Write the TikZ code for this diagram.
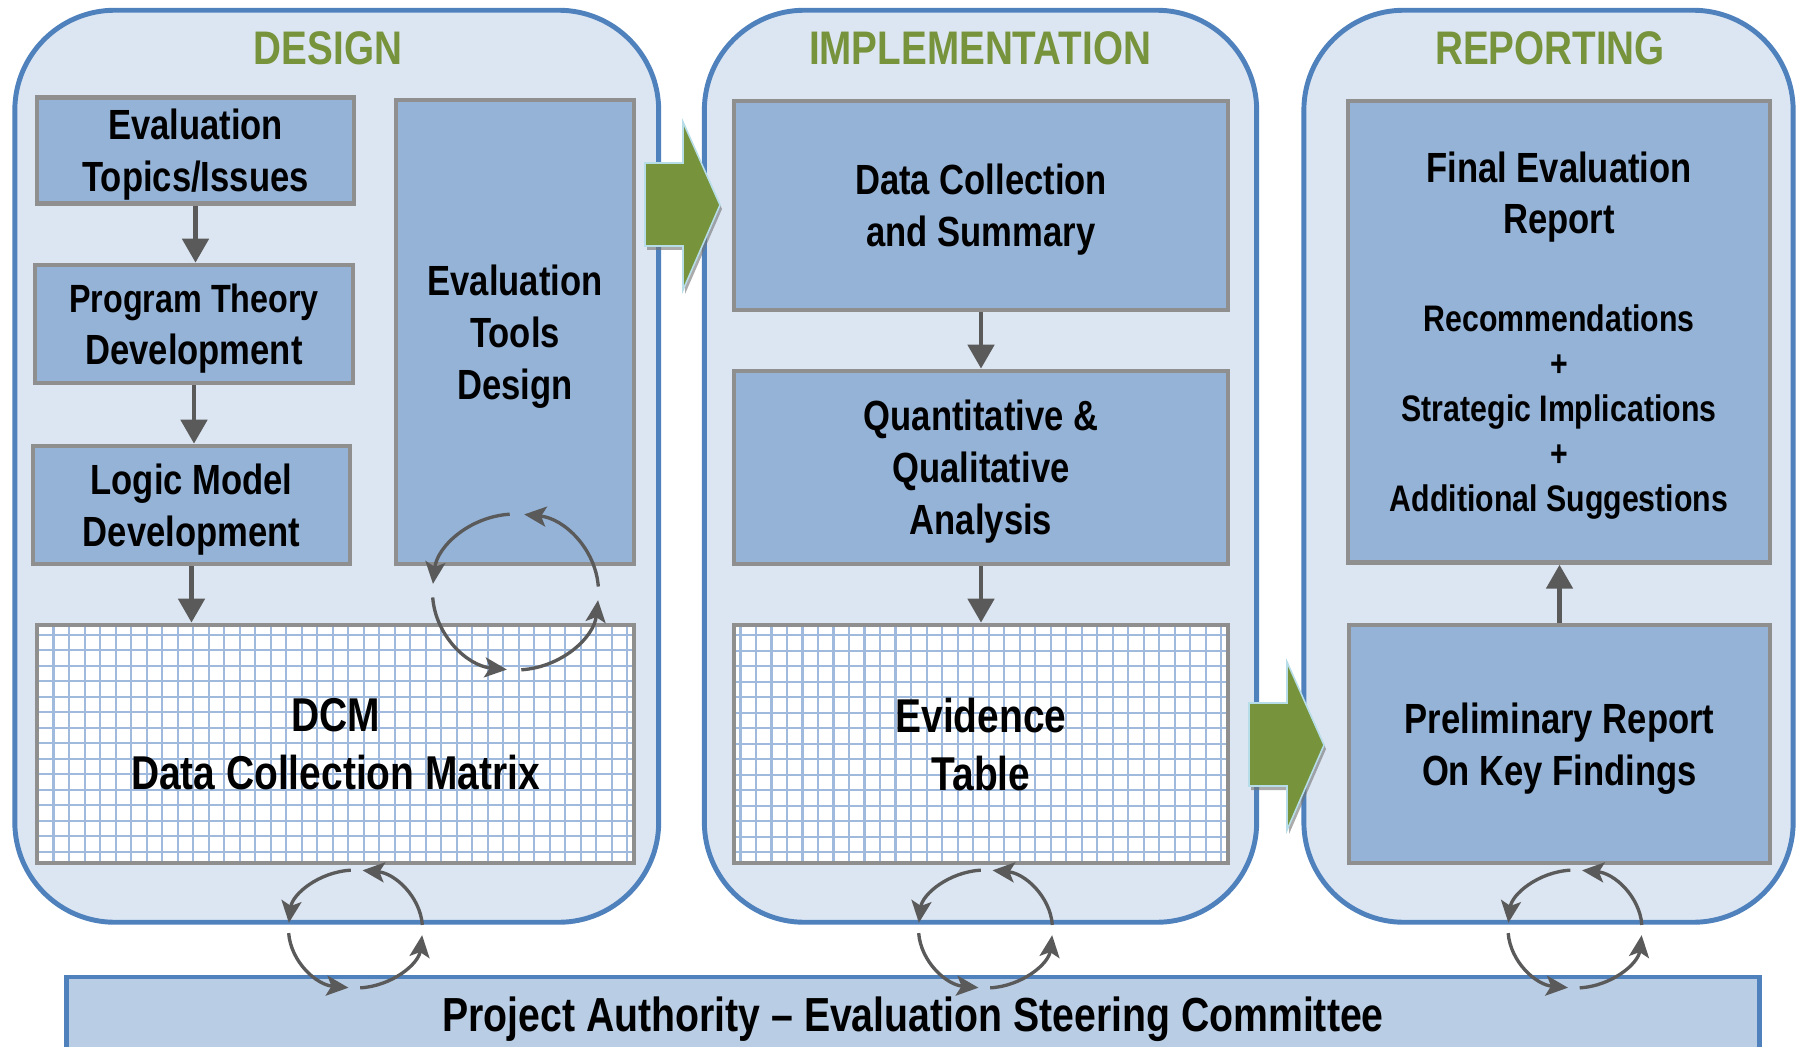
\documentclass[tikz,border=0pt]{standalone}
\usepackage{fontspec}
\newfontfamily\narrowfont{Liberation Sans}[FakeStretch=0.82]
\usepackage{tikz}
\usetikzlibrary{arrows.meta}
\usepackage{xcolor}

\definecolor{panelfill}{HTML}{DCE6F2}
\definecolor{panelline}{HTML}{4F81BD}
\definecolor{boxfill}{HTML}{95B3D7}
\definecolor{boxline}{HTML}{8F8F8F}
\definecolor{barfill}{HTML}{B9CDE5}
\definecolor{phasegreen}{HTML}{77933C}
\definecolor{flowgray}{HTML}{5A5A5A}
\definecolor{gridblue}{HTML}{9FBADC}
\definecolor{arrowrim}{HTML}{B7DEE8}

\newcommand{\finalbig}{\fontsize{12}{14}\selectfont}
\newcommand{\finalsmall}{\fontsize{10.5}{12.8}\selectfont}

\tikzset{
panel/.style={draw=panelline, fill=panelfill, line width=1.4pt, rounded corners=1cm},
phase/.style={text=phasegreen, inner sep=0pt, font=\narrowfont\bfseries\fontsize{13.4}{16}\selectfont},
stage/.style={draw=boxline, fill=boxfill, line width=1.3pt, align=center, inner sep=0pt, text depth=-1.6pt, font=\narrowfont\bfseries\fontsize{12}{14.8}\selectfont},
tablebox/.style={stage, fill=white, text depth=-3pt, font=\narrowfont\bfseries\fontsize{13.5}{16.6}\selectfont,
  path picture={\draw[gridblue, line width=0.6pt] (path picture bounding box.south west) grid[step=0.155cm] (path picture bounding box.north east);}},
steerbar/.style={draw=panelline, fill=barfill, line width=1.4pt, inner sep=0pt, font=\narrowfont\bfseries\fontsize{13.6}{16}\selectfont},
flow/.style={draw=flowgray, line width=1.4pt, -{Triangle[width=0.26cm,length=0.24cm]}},
cycarrow/.style={draw=flowgray, line width=0.95pt, -{Stealth[width=0.2cm,length=0.22cm,inset=0.05cm]}},
bigarrow/.style={fill=phasegreen, draw=arrowrim, line width=0.45pt},
arrowshadow/.style={fill=black!55, opacity=0.6}
}

% green block arrow, shaft top-left corner at (#1,#2)
\newcommand{\phasearrow}[2]{
\begin{scope}[shift={(#1,#2)}]
\fill[arrowshadow] (2,4) -- ++(38,0) -- ++(0,-41) -- ++(37,83) -- ++(-37,85) -- ++(0,-44) -- ++(-38,0) -- cycle;
\draw[bigarrow] (0,0) -- ++(38,0) -- ++(0,-41) -- ++(37,83) -- ++(-37,85) -- ++(0,-44) -- ++(-38,0) -- cycle;
\end{scope}}

\begin{document}
\begin{tikzpicture}[x=0.01cm, y=-0.01cm]

\clip (0,0) rectangle (1801,1046);
\fill[white] (0,0) rectangle (1801,1046);

% panels
{
\node[panel, minimum width=6.435cm, minimum height=9.115cm] (design) at (336.75,466.25) {};
\node[panel, minimum width=5.52cm, minimum height=9.115cm] (impl) at (980.5,466.25) {};
\node[panel, minimum width=4.89cm, minimum height=9.115cm] (report) at (1548.5,466.25) {};

\node[phase, anchor=base] (designtitle) at (328,65) {DESIGN};
\node[phase, anchor=base] (impltitle) at (980,65) {IMPLEMENTATION};
\node[phase, anchor=base] (reporttitle) at (1550,65) {REPORTING};
}

% design
{
\node[stage, minimum width=3.17cm, minimum height=1.06cm] (topics) at (195.5,150.25) {Evaluation\\Topics/Issues};
\node[stage, minimum width=3.18cm, minimum height=1.18cm] (theory) at (194,324) {\fontsize{11.2}{14}\selectfont Program Theory\\Development};
\node[stage, minimum width=3.17cm, minimum height=1.18cm] (logic) at (191.5,505) {Logic Model\\Development};
\node[stage, minimum width=2.38cm, minimum height=4.64cm] (tools) at (515,332) {Evaluation\\Tools\\Design};
\node[tablebox, minimum width=5.97cm, minimum height=2.38cm] (dcm) at (335.5,744) {DCM\\Data Collection Matrix};

\draw[flow] (topics.south) -- (topics.south |- theory.north);
\draw[flow] (theory.south) -- (theory.south |- logic.north);
\draw[flow] (logic.south) -- (logic.south |- dcm.north);
}

% implementation
{
\node[stage, minimum width=4.94cm, minimum height=2.09cm] (collect) at (981,205.5) {Data Collection\\and Summary};
\node[stage, minimum width=4.94cm, minimum height=1.93cm] (analysis) at (981,467.5) {Quantitative \&\\Qualitative\\Analysis};
\node[tablebox, minimum width=4.94cm, minimum height=2.38cm] (evidence) at (981,744) {Evidence\\Table};

\draw[flow] (collect.south) -- (collect.south |- analysis.north);
\draw[flow] (analysis.south) -- (analysis.south |- evidence.north);
}

% reporting
{
\node[stage, minimum width=4.22cm, minimum height=4.61cm, font=\narrowfont\bfseries\finalsmall] (final) at (1559,331.75)
{\finalbig Final Evaluation\\[1.8pt]\finalbig Report\\[15.1pt]\finalsmall Recommendations\\\finalsmall +\\\finalsmall Strategic Implications\\\finalsmall +\\\finalsmall Additional Suggestions};
\node[stage, minimum width=4.21cm, minimum height=2.38cm] (prelim) at (1559.5,744) {Preliminary Report\\On Key Findings};

\draw[flow] (prelim.north) -- (prelim.north |- final.south);
}

% steering committee
\node[steerbar, anchor=north, minimum width=16.92cm, minimum height=0.85cm] (steering) at (913,974.5) {Project Authority – Evaluation Steering Committee};

% feedback loops
{
\coordinate (toolloop) at (515.5,592);
\foreach \a in {0,90,180,270}
  \draw[cycarrow] (toolloop) ++(-\a-4:83 and 78) arc[start angle=-\a-4, end angle=-\a-84, x radius=83, y radius=78];

\coordinate (designloop) at (355.5,929);
\coordinate (implloop) at (985.5,929);
\coordinate (reportloop) at (1575,929);
\foreach \c in {designloop,implloop,reportloop}
  \foreach \a in {0,90,180,270}
    \draw[cycarrow] (\c) ++(-\a-4:67 and 59) arc[start angle=-\a-4, end angle=-\a-84, x radius=67, y radius=59];
}

% block arrows between phases
\phasearrow{645}{163}
\phasearrow{1249}{703}

\end{tikzpicture}
\end{document}
